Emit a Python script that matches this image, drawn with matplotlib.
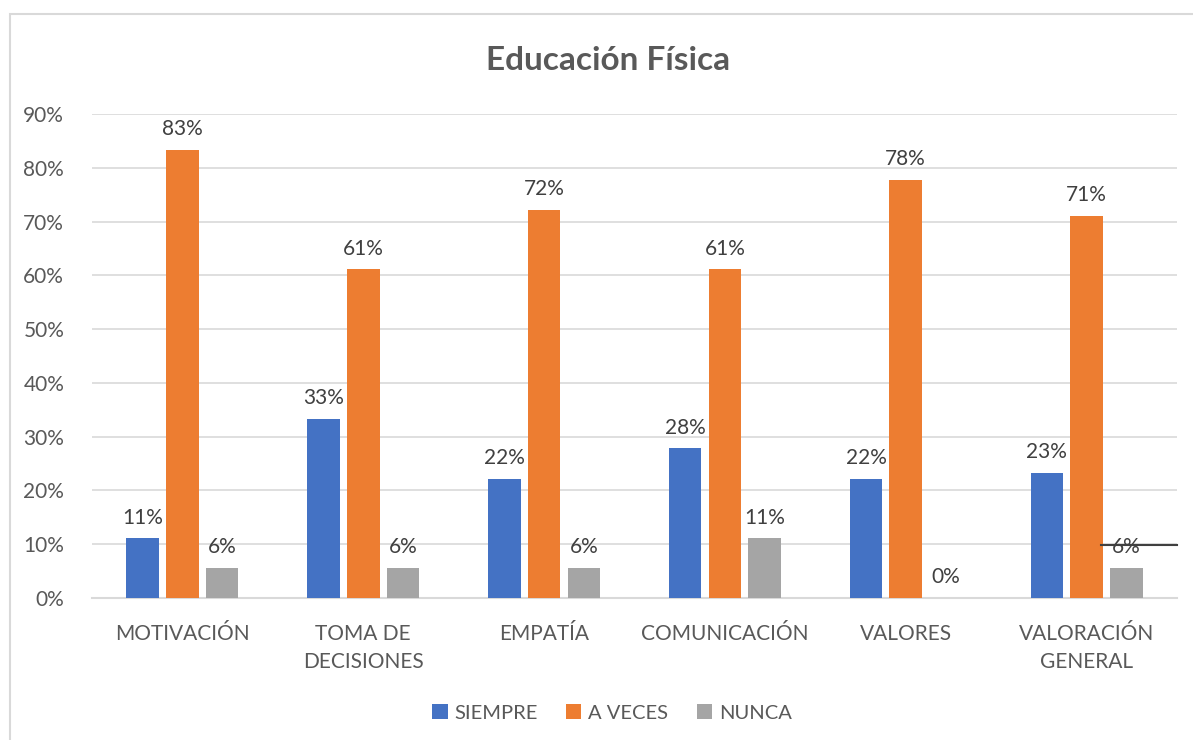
import numpy as np
import matplotlib
matplotlib.use("Agg")
import matplotlib.pyplot as plt
from matplotlib.patches import Rectangle

plt.rcParams['font.family'] = ['Lato', 'DejaVu Sans']

# datos
categorias = ["MOTIVACIÓN", "TOMA DE\nDECISIONES", "EMPATÍA", "COMUNICACIÓN",
              "VALORES", "VALORACIÓN\nGENERAL"]
siempre = [11.1, 33.3, 22.2, 27.8, 22.2, 23.3]
a_veces = [83.3, 61.1, 72.2, 61.1, 77.8, 71.1]
nunca = [5.6, 5.6, 5.6, 11.1, 0.0, 5.6]
series = ["SIEMPRE", "A VECES", "NUNCA"]
colores = ["#4472C4", "#ED7D31", "#A5A5A5"]
gris_texto = "#595959"

W, H = 1193, 740
fig = plt.figure(figsize=(W / 100, H / 100), dpi=100)
ax = fig.add_axes([92 / W, 1 - 598 / H, (1177 - 92) / W, (598 - 114) / H])

# marco del grafico
fig.patches.append(Rectangle((10 / W, -0.1), 1.2, 1 - 14 / H + 0.1, transform=fig.transFigure,
                             fill=False, edgecolor="#D9D9D9", linewidth=1.5))

x = np.arange(len(categorias))
ancho = 0.18
paso = 0.22
for i, (vals, nombre, col) in enumerate(zip([siempre, a_veces, nunca], series, colores)):
    pos = x + (i - 1) * paso
    ax.bar(pos, vals, width=ancho, color=col, label=nombre, zorder=3)
    for px, v in zip(pos, vals):
        ax.text(px, v + 2.0, f"{round(v):.0f}%", ha="center", va="bottom",
                fontsize=15, color="#404040", zorder=4)

ax.set_xlim(-0.5, len(categorias) - 0.5)
ax.set_ylim(0, 90)
ax.set_yticks(np.arange(0, 91, 10))
ax.set_yticklabels([f"{t}%" for t in range(0, 91, 10)])
ax.set_xticks(x)
ax.set_xticklabels(categorias, fontsize=15, color=gris_texto, linespacing=1.45)
ax.tick_params(axis="y", labelsize=15, labelcolor=gris_texto, length=0, pad=20)
ax.tick_params(axis="x", length=0, pad=19)
ax.grid(axis="y", color="#D9D9D9", linewidth=1.2, zorder=0)
for s in ["top", "right", "left"]:
    ax.spines[s].set_visible(False)
ax.spines["bottom"].set_color("#D9D9D9")
ax.spines["bottom"].set_linewidth(1.5)

# linea suelta sobre la ultima etiqueta
ax.plot([5.08, 5.5], [9.85, 9.85], color="#404040", linewidth=1.5, zorder=5, clip_on=False)

fig.text(608 / W, 1 - 61 / H, "Educación Física", ha="center", va="center",
         fontsize=24, fontweight="bold", color=gris_texto)

fig.legend(loc="center", bbox_to_anchor=(612 / W, 1 - 713 / H), ncol=3, frameon=False,
           fontsize=14.5, labelcolor=gris_texto, handlelength=0.75, handleheight=0.75,
           handletextpad=0.35, columnspacing=1.4)

fig.savefig("out.png", dpi=100)
